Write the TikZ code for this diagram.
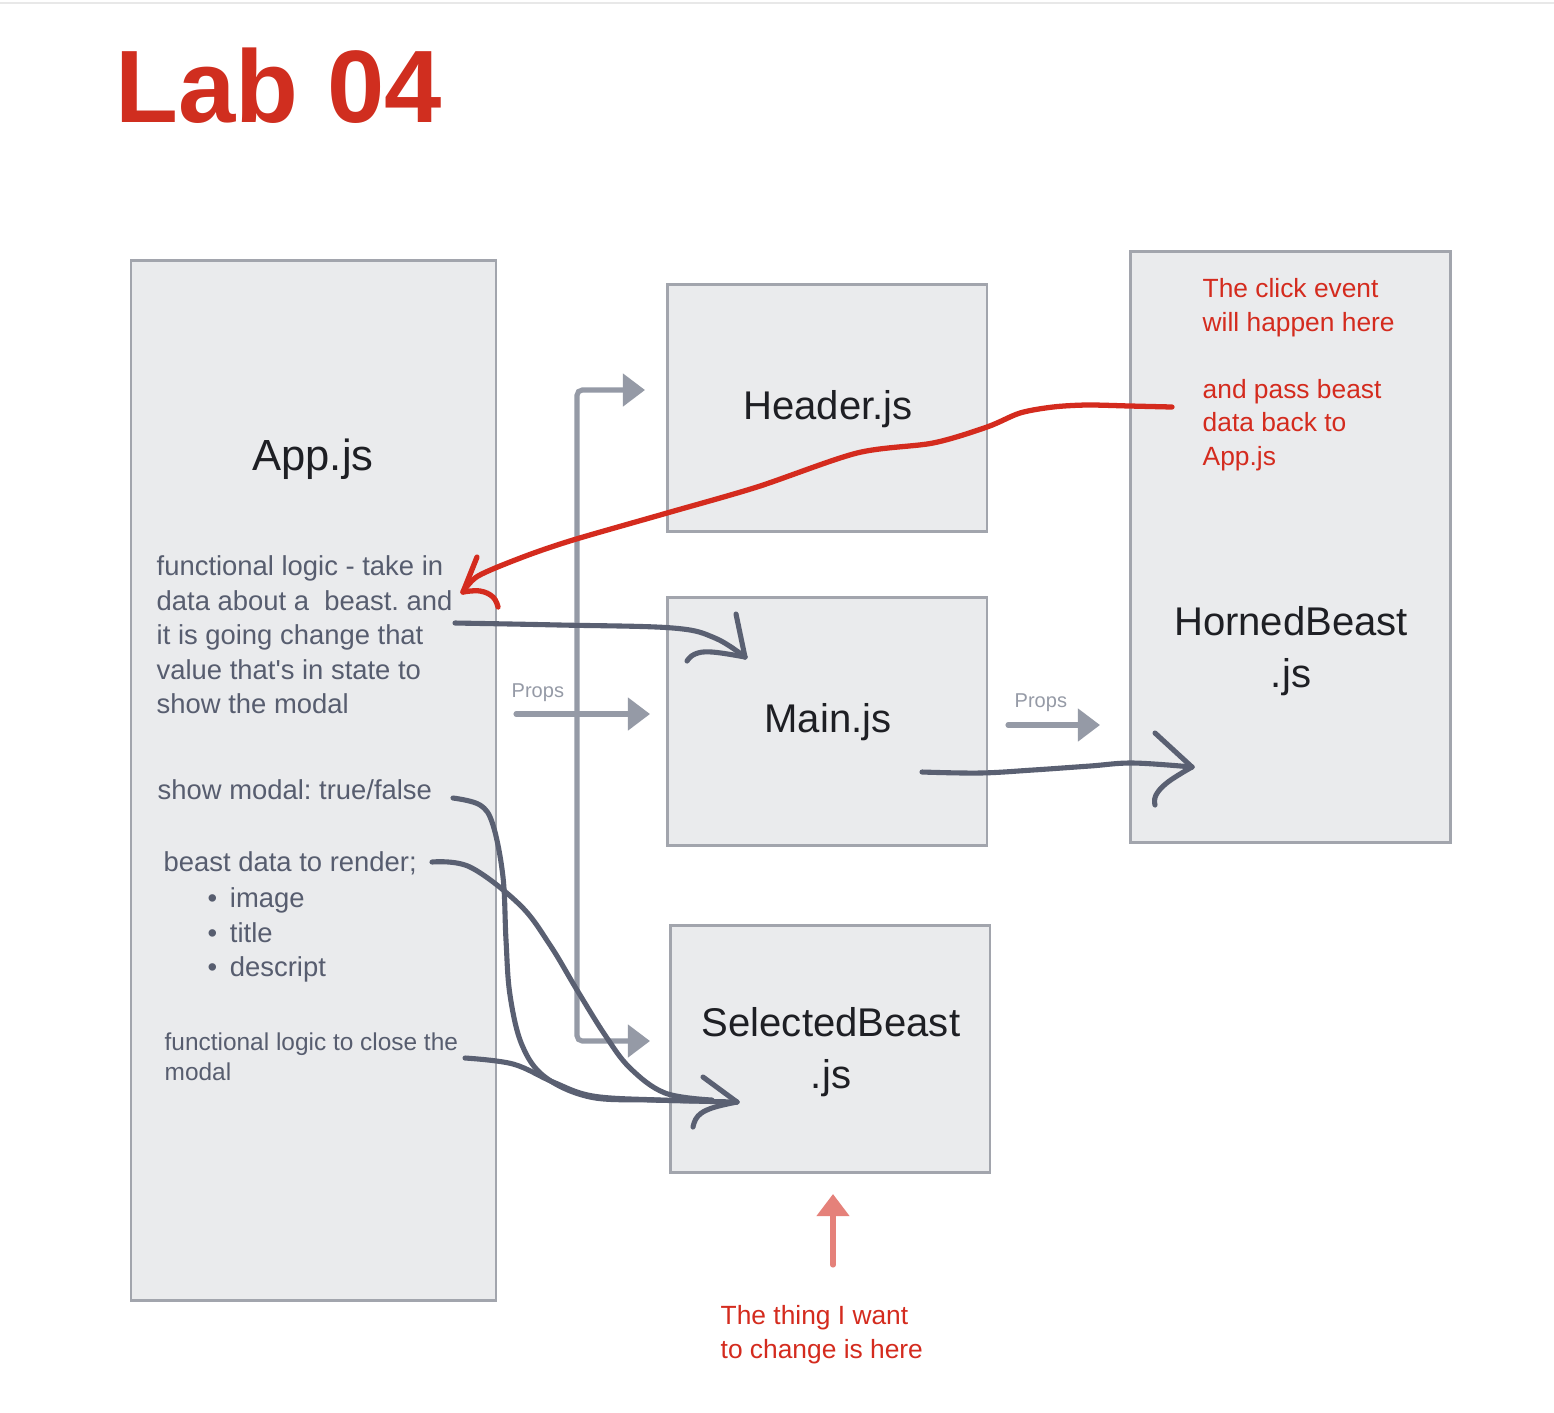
\documentclass[tikz,border=0pt]{standalone}
\usepackage{fontspec}
\setmainfont{Liberation Sans}
\usetikzlibrary{arrows.meta}
\frenchspacing

\definecolor{labred}{HTML}{D02E1F}
\definecolor{boxfill}{HTML}{EAEBED}
\definecolor{boxline}{HTML}{A2A5AD}
\definecolor{inktext}{HTML}{575D6F}
\definecolor{inkline}{HTML}{5A6072}
\definecolor{propsgray}{HTML}{959AA6}
\definecolor{penred}{HTML}{D42B1E}
\definecolor{pinkred}{HTML}{E5817A}
\definecolor{titleink}{HTML}{1E1F24}

\tikzset{
	propstip/.tip={Triangle[length=6.3pt, width=9.1pt]},
	filebox/.style={draw=boxline, fill=boxfill, line width=0.85pt, inner sep=0pt, outer sep=0pt, anchor=north west},
	boxtitle/.style={text=titleink, align=center, inner sep=0pt, font=\fontsize{11.4pt}{14.8pt}\selectfont},
	note/.style={text=inktext, inner sep=0pt, font=\fontsize{7.8pt}{9.82pt}\selectfont},
	rednote/.style={text=penred, align=left, inner sep=0pt, anchor=north west, font=\fontsize{7.5pt}{9.53pt}\selectfont},
	propslabel/.style={text=propsgray, inner sep=0pt, anchor=base west, font=\fontsize{5.7pt}{6.8pt}\selectfont},
	propsarrow/.style={draw=propsgray, line width=1.45pt, -propstip},
	inkstroke/.style={draw=inkline, line width=1.45pt, line cap=round, line join=round},
	redstroke/.style={draw=penred, line width=1.5pt, line cap=round, line join=round},
}

\begin{document}
\begin{tikzpicture}[x=0.1mm, y=-0.1mm]
			%%%%% START %%%%%
			
			\fill[white] (0, 0) rectangle (1554, 1412);
			\useasboundingbox (0, 0) rectangle (1554, 1412);
			\draw[line width=0.6pt, color=black!9] (0, 3) -- (1554, 3);
			
			\node[anchor=base west, inner sep=0pt, text=labred, font=\fontsize{29.3pt}{34pt}\selectfont\bfseries] (title) at (115, 122) {Lab 04};
			
			\node[filebox, minimum width=36.5mm, minimum height=104mm] (appbox) at (131, 260) {};
			\node[filebox, minimum width=32mm, minimum height=24.7mm] (hdrbox) at (667, 284) {};
			\node[filebox, minimum width=32mm, minimum height=24.8mm] (mainbox) at (667, 597) {};
			\node[filebox, minimum width=32mm, minimum height=24.7mm] (selbox) at (670, 925) {};
			\node[filebox, minimum width=32mm, minimum height=59.1mm] (hornbox) at (1130, 251) {};
			
			\node[boxtitle, font=\fontsize{12.4pt}{14.8pt}\selectfont] (app) at (313, 459) {App.js};
			\node[boxtitle] (header) at (828, 409) {Header.js};
			\node[boxtitle] (main) at (828, 722) {Main.js};
			\node[boxtitle] (selected) at (831, 1052) {SelectedBeast\\.js};
			\node[boxtitle] (horned) at (1291, 651) {HornedBeast\\.js};
			
			\node[note, align=left, anchor=north west] (logic) at (156, 555) {functional logic - take in\\data about a\ \ beast. and\\it is going change that\\value that\textquotesingle s in state to\\show the modal};
			\node[note, anchor=base west] (showmodal) at (157, 799) {show modal: true/false};
			\node[note, anchor=base west] (beastdata) at (163, 871) {beast data to render;};
			\node[note, align=left, anchor=north west] (fields) at (207, 887) {\textbullet\hspace{3.6pt}image\\\textbullet\hspace{3.6pt}title\\\textbullet\hspace{3.6pt}descript};
			\node[note, align=left, anchor=north west, font=\fontsize{6.95pt}{8.54pt}\selectfont] (closer) at (164, 1032) {functional logic to close the\\modal};
			
			\node[rednote] (click) at (1202, 278) {The click event\\will happen here\\[9.53pt]and pass beast\\data back to\\App.js};
			\node[rednote] (wish) at (720, 1305) {The thing I want\\to change is here};
			
			\node[propslabel] (props1) at (511, 697) {Props};
			\node[propslabel] (props2) at (1014, 707) {Props};
			
			\coordinate (hdrin) at (645, 390);
			\coordinate (selin) at (650, 1041);
			\coordinate (mainin) at (650, 714);
			\coordinate (hornin) at (1100, 725);
			\draw[propsarrow, propstip-propstip, rounded corners=1.5pt] (hdrin) -| (577, 1041) -- (selin);
			\draw[propsarrow, line cap=round] (516, 714) -- (mainin);
			\draw[propsarrow, line cap=round] (1008, 725) -- (hornin);
			
			\coordinate (pinkfoot) at (833, 1265);
			\coordinate (pinktip) at (833, 1194);
			\draw[draw=pinkred, line width=1.45pt, line cap=round, -propstip] (pinkfoot) -- (pinktip);
			
			% logic -> Main.js
			\coordinate (logicout) at (455, 623);
			\coordinate (mainpoint) at (745, 657);
			\draw[inkstroke] plot[smooth, tension=0.6] coordinates {(logicout) (560, 625) (673, 628) (715, 638) (mainpoint)};
			\draw[inkstroke] (736, 614) -- (mainpoint);
			\draw[inkstroke] plot[smooth, tension=0.7] coordinates {(mainpoint) (712, 652) (695, 654) (687, 661)};
			
			% Main.js -> HornedBeast.js
			\coordinate (mainout) at (922, 772);
			\coordinate (hornpoint) at (1192, 767);
			\draw[inkstroke] plot[smooth, tension=0.6] coordinates {(mainout) (980, 773) (1033, 770) (1090, 766) (1133, 763) (hornpoint)};
			\draw[inkstroke] (1155, 733) -- (hornpoint);
			\draw[inkstroke] plot[smooth, tension=0.7] coordinates {(hornpoint) (1168, 782) (1156, 795) (1155, 805)};
			
			% App.js state -> SelectedBeast.js
			\coordinate (showout) at (453, 798);
			\coordinate (beastout) at (432, 862);
			\coordinate (closeout) at (465, 1058);
			\coordinate (selpoint) at (737, 1102);
			\draw[inkstroke] plot[smooth, tension=0.6] coordinates {(showout) (480, 805) (493, 825) (503, 877) (506, 940) (510, 995) (522, 1045) (545, 1077) (590, 1097) (650, 1100) (712, 1101)};
			\draw[inkstroke] plot[smooth, tension=0.6] coordinates {(beastout) (470, 867) (520, 905) (550, 945) (577, 990) (605, 1035) (630, 1068) (665, 1093) (712, 1100)};
			\draw[inkstroke] plot[smooth, tension=0.6] coordinates {(closeout) (513, 1064) (553, 1082) (593, 1096) (660, 1100) (selpoint)};
			\draw[inkstroke] (703, 1077) -- (selpoint);
			\draw[inkstroke] plot[smooth, tension=0.7] coordinates {(selpoint) (712, 1108) (698, 1116) (693, 1127)};
			
			% HornedBeast.js click -> App.js
			\coordinate (clickfrom) at (1172, 407);
			\coordinate (apppoint) at (463, 592);
			\draw[redstroke] plot[smooth, tension=0.5] coordinates {(clickfrom) (1130, 406) (1087, 405) (1053, 407) (1020, 413) (987, 427) (933, 443) (857, 453) (757, 487) (667, 513) (573, 540) (523, 557) (478, 576) (apppoint)};
			\draw[redstroke] (477, 557) -- (apppoint);
			\draw[redstroke] plot[smooth, tension=0.7] coordinates {(apppoint) (480, 591) (493, 597) (498, 607)};
			
			%%%%% END %%%%%
\end{tikzpicture}
\end{document}
